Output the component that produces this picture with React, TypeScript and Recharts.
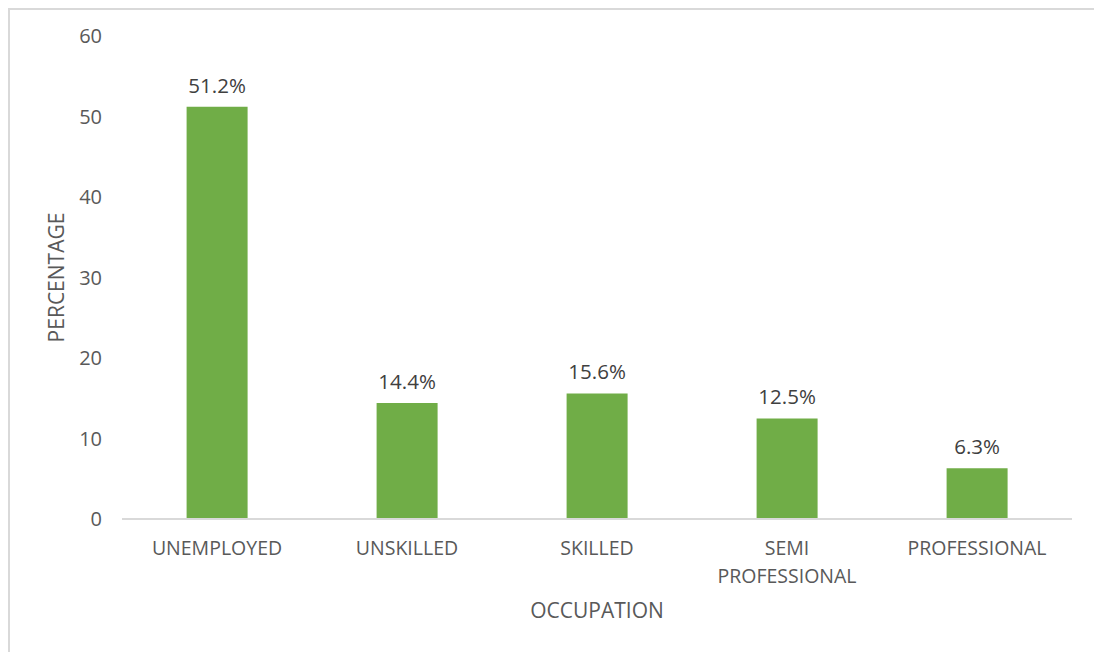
import { Bar, BarChart, LabelList, XAxis, YAxis } from "recharts";

const occupations = ["UNEMPLOYED", "UNSKILLED", "SKILLED", "SEMI PROFESSIONAL", "PROFESSIONAL"];
const percentages = [51.2, 14.4, 15.6, 12.5, 6.3];
const yTicks = [0, 10, 20, 30, 40, 50, 60];

const data = occupations.map((name, i) => ({ name, value: percentages[i] }));

const FONT = "'Open Sans', sans-serif";
const AXIS_GREY = "#595959";
const BAR_GREEN = "#70ad47";

// category tick; names longer than one word-width go onto two lines
const CategoryTick = (props: any) => {
  const { x, y, payload } = props;
  const name: string = payload.value;
  const lines = name.length > 14 ? name.split(" ") : [name];
  return (
    <text
      x={x}
      y={y}
      textAnchor="middle"
      fill={AXIS_GREY}
      fontSize={19.5}
      fontFamily={FONT}
    >
      {lines.map((line, i) => (
        <tspan key={line} x={x} dy={i === 0 ? 13 : 28}>
          {line}
        </tspan>
      ))}
    </text>
  );
};

export default function App() {
  return (
    <div
      style={{
        position: "fixed",
        left: 8,
        top: 8,
        width: 1200,
        height: 700,
        overflow: "hidden",
        background: "#fff",
        boxSizing: "border-box",
        borderTop: "2px solid #d9d9d9",
        borderLeft: "2px solid #d9d9d9",
      }}
    >
      <BarChart
        width={1084}
        height={642}
        data={data}
        barCategoryGap="34%"
        margin={{ top: 26, right: 22, bottom: 0, left: 18 }}
      >
        <XAxis
          dataKey="name"
          height={133}
          tickLine={false}
          axisLine={{ stroke: "#d9d9d9", strokeWidth: 2 }}
          tick={<CategoryTick />}
          tickMargin={17}
          interval={0}
          label={{
            value: "OCCUPATION",
            position: "insideBottom",
            offset: 34,
            fill: AXIS_GREY,
            fontSize: 21,
            fontFamily: FONT,
          }}
        />
        <YAxis
          width={94}
          domain={[0, 60]}
          ticks={yTicks}
          tickLine={false}
          axisLine={false}
          tickSize={0}
          tickMargin={20}
          tick={{ fill: AXIS_GREY, fontSize: 20, fontFamily: FONT }}
          label={{
            value: "PERCENTAGE",
            angle: -90,
            position: "insideLeft",
            offset: 29,
            fill: AXIS_GREY,
            fontSize: 21,
            fontFamily: FONT,
            style: { textAnchor: "middle" },
          }}
        />
        <Bar dataKey="value" fill={BAR_GREEN} isAnimationActive={false}>
          <LabelList
            dataKey="value"
            position="top"
            offset={14}
            formatter={(v: any) => `${Number(v).toFixed(1)}%`}
            fill="#404040"
            fontSize={20.5}
            fontFamily={FONT}
          />
        </Bar>
      </BarChart>
    </div>
  );
}
